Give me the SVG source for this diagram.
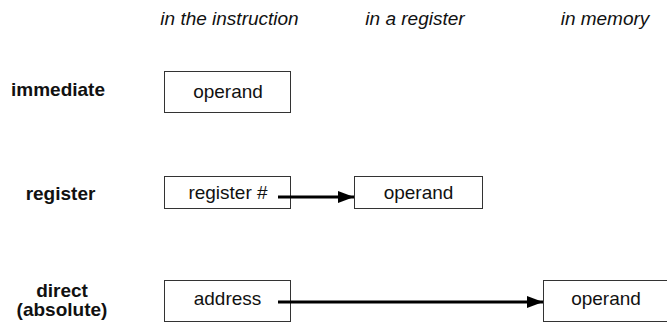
<svg xmlns="http://www.w3.org/2000/svg" width="667" height="324" viewBox="0 0 667 324">
<style>
text{font-family:"Liberation Sans",Arial,sans-serif;font-size:19px;fill:#111}
.h{font-style:italic;text-anchor:middle}
.lbl{font-weight:bold;text-anchor:middle}
.c{text-anchor:middle}
rect{fill:#fff;stroke:#333;stroke-width:1}
.arr{stroke:#000;stroke-width:3;fill:none}
</style>
<defs>
<marker id="ah" markerUnits="userSpaceOnUse" markerWidth="16" markerHeight="12" refX="16" refY="6" orient="auto">
<path d="M0,0 L16,6 L0,12 Z" fill="#000"/>
</marker>
</defs>
<g id="headers">
<text class="h" x="229.5" y="25">in the instruction</text>
<text class="h" x="415" y="25">in a register</text>
<text class="h" x="605" y="25">in memory</text>
</g>
<g id="labels">
<text class="lbl" x="58" y="96">immediate</text>
<text class="lbl" x="60.5" y="200">register</text>
<text class="lbl" x="62" y="297">direct</text>
<text class="lbl" x="62" y="316">(absolute)</text>
</g>
<g id="imm-operand">
<rect x="164.5" y="71.5" width="126" height="41"/>
<text class="c" x="228" y="98">operand</text>
</g>
<g id="reg-number">
<rect x="164.5" y="176.5" width="126" height="32"/>
<text class="c" x="228" y="199">register #</text>
</g>
<g id="reg-operand">
<rect x="354.5" y="176.5" width="128" height="32"/>
<text class="c" x="418.5" y="199">operand</text>
</g>
<g id="dir-address">
<rect x="164.5" y="280.5" width="126" height="41"/>
<text class="c" x="227.5" y="305">address</text>
</g>
<g id="dir-operand">
<rect x="543.5" y="280.5" width="126" height="41"/>
<text class="c" x="606" y="305">operand</text>
</g>
<g id="connectors">
<line class="arr" x1="278" y1="197" x2="354" y2="197" marker-end="url(#ah)"/>
<line class="arr" x1="278" y1="302" x2="543" y2="302" marker-end="url(#ah)"/>
</g>
</svg>
